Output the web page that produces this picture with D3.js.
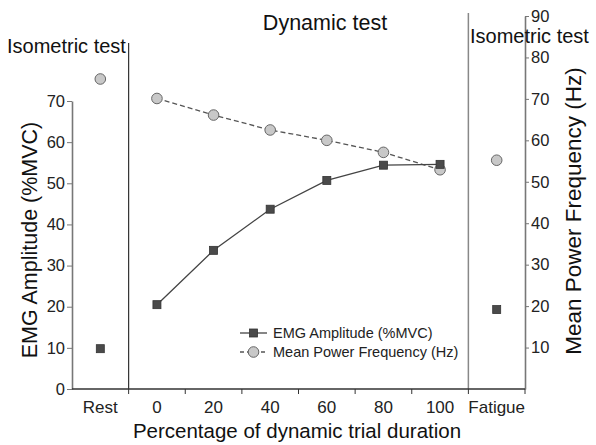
<!DOCTYPE html>
<html>
<head>
<meta charset="utf-8">
<script src="https://cdn.jsdelivr.net/npm/d3@7"></script>
<style>
  html, body { margin: 0; padding: 0; background: #fff; }
  svg { display: block; font-family: "Liberation Sans", Arial, sans-serif; }
</style>
</head>
<body>
<div id="chart"></div>
<script>
// categories along the x axis
const categories = ['Rest', '0', '20', '40', '60', '80', '100', 'Fatigue'];
const dynamicCats = ['0', '20', '40', '60', '80', '100'];

// EMG amplitude (%MVC), left axis
const emgIsoRest = 9.8;
const emgDynamic = [20.5, 33.7, 43.7, 50.7, 54.4, 54.6];
const emgIsoFatigue = 19.3;

// Mean power frequency (Hz), right axis
const mpfIsoRest = 74.8;
const mpfDynamic = [70.1, 66.1, 62.5, 60.0, 57.1, 52.9];
const mpfIsoFatigue = 55.2;

const leftTicks = [0, 10, 20, 30, 40, 50, 60, 70];
const rightTicks = [10, 20, 30, 40, 50, 60, 70, 80, 90];

const W = 596, H = 445;
const svg = d3.select('#chart').append('svg')
  .attr('width', W).attr('height', H);

const x = d3.scaleBand().domain(categories).range([72, 525]);
const yL = d3.scaleLinear().domain([0, 70]).range([389, 101]);
const yR = d3.scaleLinear().domain([0, 90]).range([389, 16]);
const cx = d => x(d) + x.bandwidth() / 2;

// separators between the test phases
svg.append('line')
  .attr('x1', x('0')).attr('x2', x('0'))
  .attr('y1', 43).attr('y2', 389)
  .attr('stroke', '#333').attr('stroke-width', 1.2);
svg.append('line')
  .attr('x1', x('Fatigue')).attr('x2', x('Fatigue'))
  .attr('y1', 13).attr('y2', 389)
  .attr('stroke', '#888').attr('stroke-width', 1.5);

// left axis
const gL = svg.append('g')
  .attr('transform', 'translate(72,0)')
  .call(d3.axisLeft(yL).tickValues(leftTicks).tickSize(5).tickPadding(2).tickSizeOuter(0));
gL.select('.domain').attr('stroke', '#777').attr('stroke-width', 1.6);
gL.selectAll('.tick line').attr('stroke', '#777');
gL.selectAll('text').attr('font-size', 16.5).attr('fill', '#222')
  .attr('font-family', '"Liberation Sans", Arial, sans-serif');

// right axis
const gR = svg.append('g')
  .attr('transform', 'translate(525,0)')
  .call(d3.axisRight(yR).tickValues(rightTicks).tickSize(4).tickPadding(2).tickSizeOuter(0));
gR.select('.domain').attr('stroke', '#777').attr('stroke-width', 1.6);
gR.selectAll('.tick line').attr('stroke', '#777');
gR.selectAll('text').attr('font-size', 16.5).attr('fill', '#222')
  .attr('font-family', '"Liberation Sans", Arial, sans-serif');

// bottom axis: line, ticks on band edges, labels in band centres
svg.append('line')
  .attr('x1', 72).attr('x2', 525).attr('y1', 389).attr('y2', 389)
  .attr('stroke', '#333').attr('stroke-width', 1.3);
svg.selectAll('.xtick')
  .data(categories.slice(1).concat(['end']))
  .join('line')
  .attr('class', 'xtick')
  .attr('x1', d => d === 'end' ? 525 : x(d))
  .attr('x2', d => d === 'end' ? 525 : x(d))
  .attr('y1', 389).attr('y2', 394)
  .attr('stroke', '#333');
svg.selectAll('.xlabel')
  .data(categories)
  .join('text')
  .attr('class', 'xlabel')
  .attr('x', d => cx(d)).attr('y', 413)
  .attr('text-anchor', 'middle')
  .attr('font-size', 17).attr('fill', '#222')
  .text(d => d);

// titles
svg.append('text').attr('x', 7).attr('y', 53)
  .attr('font-size', 20).attr('fill', '#111').text('Isometric test');
svg.append('text').attr('x', 325).attr('y', 30)
  .attr('text-anchor', 'middle')
  .attr('font-size', 21.5).attr('fill', '#111').text('Dynamic test');
svg.append('text').attr('x', 470).attr('y', 43)
  .attr('font-size', 20).attr('fill', '#111').text('Isometric test');

svg.append('text')
  .attr('transform', 'translate(37,240) rotate(-90)')
  .attr('text-anchor', 'middle')
  .attr('font-size', 21.5).attr('fill', '#111').text('EMG Amplitude (%MVC)');
svg.append('text')
  .attr('transform', 'translate(581,211) rotate(-90)')
  .attr('text-anchor', 'middle')
  .attr('font-size', 22.5).attr('fill', '#111').text('Mean Power Frequency (Hz)');
svg.append('text')
  .attr('x', 297).attr('y', 438)
  .attr('text-anchor', 'middle')
  .attr('font-size', 20.5).attr('fill', '#111').text('Percentage of dynamic trial duration');

// series lines
const emgPts = dynamicCats.map((c, i) => [cx(c), yL(emgDynamic[i])]);
const mpfPts = dynamicCats.map((c, i) => [cx(c), yR(mpfDynamic[i])]);
const line = d3.line();

svg.append('path').attr('d', line(mpfPts))
  .attr('fill', 'none').attr('stroke', '#555')
  .attr('stroke-width', 1.3).attr('stroke-dasharray', '5,3');
svg.append('path').attr('d', line(emgPts))
  .attr('fill', 'none').attr('stroke', '#444').attr('stroke-width', 1.3);

// markers
const emgAll = [['Rest', emgIsoRest]]
  .concat(dynamicCats.map((c, i) => [c, emgDynamic[i]]))
  .concat([['Fatigue', emgIsoFatigue]]);
const mpfAll = [['Rest', mpfIsoRest]]
  .concat(dynamicCats.map((c, i) => [c, mpfDynamic[i]]))
  .concat([['Fatigue', mpfIsoFatigue]]);

svg.selectAll('.mpf')
  .data(mpfAll)
  .join('circle')
  .attr('class', 'mpf')
  .attr('cx', d => cx(d[0])).attr('cy', d => yR(d[1]))
  .attr('r', 5.3)
  .attr('fill', '#c8c8c8').attr('stroke', '#666').attr('stroke-width', 1);

svg.selectAll('.emg')
  .data(emgAll)
  .join('rect')
  .attr('class', 'emg')
  .attr('x', d => cx(d[0]) - 4).attr('y', d => yL(d[1]) - 4)
  .attr('width', 8).attr('height', 8)
  .attr('fill', '#4a4a4a').attr('stroke', '#333').attr('stroke-width', 0.8);

// legend
const lg = svg.append('g').attr('transform', 'translate(240,333)');
lg.append('line').attr('x1', 0).attr('x2', 27).attr('y1', 0).attr('y2', 0)
  .attr('stroke', '#444').attr('stroke-width', 1.3);
lg.append('rect').attr('x', 9.5).attr('y', -4).attr('width', 8).attr('height', 8)
  .attr('fill', '#4a4a4a').attr('stroke', '#333').attr('stroke-width', 0.8);
lg.append('text').attr('x', 33).attr('y', 5)
  .attr('font-size', 14.5).attr('fill', '#222').text('EMG Amplitude (%MVC)');
lg.append('line').attr('x1', 0).attr('x2', 27).attr('y1', 19).attr('y2', 19)
  .attr('stroke', '#555').attr('stroke-width', 1.3).attr('stroke-dasharray', '4,3');
lg.append('circle').attr('cx', 13.5).attr('cy', 19).attr('r', 5.3)
  .attr('fill', '#c8c8c8').attr('stroke', '#666');
lg.append('text').attr('x', 33).attr('y', 24)
  .attr('font-size', 14.5).attr('fill', '#222').text('Mean Power Frequency (Hz)');
</script>
</body>
</html>
